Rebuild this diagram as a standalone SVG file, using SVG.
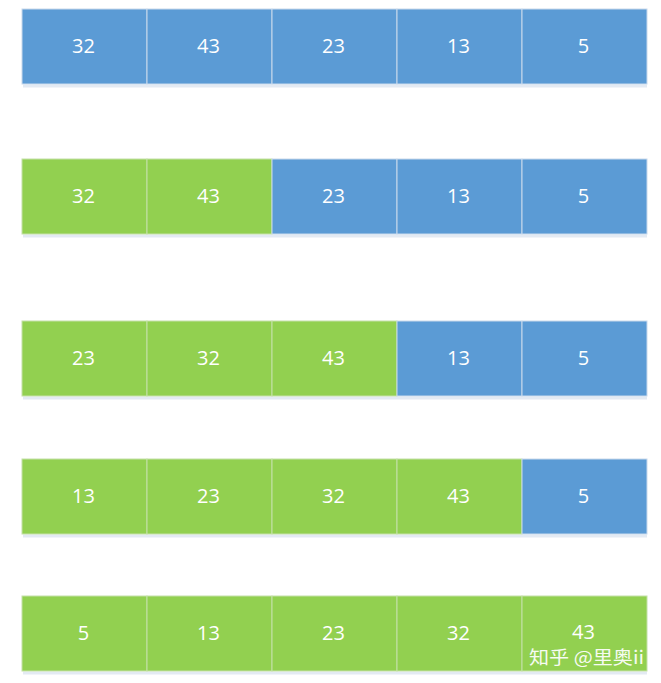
<svg xmlns="http://www.w3.org/2000/svg" width="661" height="683" viewBox="0 0 661 683">
<defs>
<style>
.b{fill:#5B9BD5;stroke:#C9D9EC;stroke-width:1}
.g{fill:#92D050;stroke:#C4E0A8;stroke-width:1}
.sh{fill:#E3EAF3}
.t{fill:#FFFFFF;font-family:"Open Sans","Liberation Sans",sans-serif;font-size:20px;text-anchor:middle;dominant-baseline:central}
.w{fill:#FFFFFF;font-family:"Noto Sans CJK SC","Liberation Sans",sans-serif;font-size:18px;opacity:0.92}
</style>
</defs>
<rect width="661" height="683" fill="#FFFFFF"/>
<g id="shadows">
<rect class="sh" x="23" y="84.5" width="624" height="3"/>
<rect class="sh" x="23" y="234.5" width="624" height="3"/>
<rect class="sh" x="23" y="396.5" width="624" height="3"/>
<rect class="sh" x="23" y="534.5" width="624" height="3"/>
<rect class="sh" x="23" y="671.5" width="624" height="3"/>
</g>
<g id="row1">
<g id="r1c1"><rect class="b" x="22" y="9" width="125" height="75"/><text class="t" x="83.5" y="45">32</text></g>
<g id="r1c2"><rect class="b" x="147" y="9" width="125" height="75"/><text class="t" x="208.5" y="45">43</text></g>
<g id="r1c3"><rect class="b" x="272" y="9" width="125" height="75"/><text class="t" x="333.5" y="45">23</text></g>
<g id="r1c4"><rect class="b" x="397" y="9" width="125" height="75"/><text class="t" x="458.5" y="45">13</text></g>
<g id="r1c5"><rect class="b" x="522" y="9" width="125" height="75"/><text class="t" x="583.5" y="45">5</text></g>
</g>
<g id="row2">
<g id="r2c1"><rect class="g" x="22" y="159" width="125" height="75"/><text class="t" x="83.5" y="195">32</text></g>
<g id="r2c2"><rect class="g" x="147" y="159" width="125" height="75"/><text class="t" x="208.5" y="195">43</text></g>
<g id="r2c3"><rect class="b" x="272" y="159" width="125" height="75"/><text class="t" x="333.5" y="195">23</text></g>
<g id="r2c4"><rect class="b" x="397" y="159" width="125" height="75"/><text class="t" x="458.5" y="195">13</text></g>
<g id="r2c5"><rect class="b" x="522" y="159" width="125" height="75"/><text class="t" x="583.5" y="195">5</text></g>
</g>
<g id="row3">
<g id="r3c1"><rect class="g" x="22" y="321" width="125" height="75"/><text class="t" x="83.5" y="357">23</text></g>
<g id="r3c2"><rect class="g" x="147" y="321" width="125" height="75"/><text class="t" x="208.5" y="357">32</text></g>
<g id="r3c3"><rect class="g" x="272" y="321" width="125" height="75"/><text class="t" x="333.5" y="357">43</text></g>
<g id="r3c4"><rect class="b" x="397" y="321" width="125" height="75"/><text class="t" x="458.5" y="357">13</text></g>
<g id="r3c5"><rect class="b" x="522" y="321" width="125" height="75"/><text class="t" x="583.5" y="357">5</text></g>
</g>
<g id="row4">
<g id="r4c1"><rect class="g" x="22" y="459" width="125" height="75"/><text class="t" x="83.5" y="495">13</text></g>
<g id="r4c2"><rect class="g" x="147" y="459" width="125" height="75"/><text class="t" x="208.5" y="495">23</text></g>
<g id="r4c3"><rect class="g" x="272" y="459" width="125" height="75"/><text class="t" x="333.5" y="495">32</text></g>
<g id="r4c4"><rect class="g" x="397" y="459" width="125" height="75"/><text class="t" x="458.5" y="495">43</text></g>
<g id="r4c5"><rect class="b" x="522" y="459" width="125" height="75"/><text class="t" x="583.5" y="495">5</text></g>
</g>
<g id="row5">
<g id="r5c1"><rect class="g" x="22" y="596" width="125" height="75"/><text class="t" x="83.5" y="632">5</text></g>
<g id="r5c2"><rect class="g" x="147" y="596" width="125" height="75"/><text class="t" x="208.5" y="632">13</text></g>
<g id="r5c3"><rect class="g" x="272" y="596" width="125" height="75"/><text class="t" x="333.5" y="632">23</text></g>
<g id="r5c4"><rect class="g" x="397" y="596" width="125" height="75"/><text class="t" x="458.5" y="632">32</text></g>
<g id="r5c5"><rect class="g" x="522" y="596" width="125" height="75"/><text class="t" x="583.5" y="631">43</text></g>
</g>
<g id="connectors"/>
<text class="w" x="529" y="664" textLength="115" lengthAdjust="spacingAndGlyphs">知乎 @里奥ii</text>
</svg>
